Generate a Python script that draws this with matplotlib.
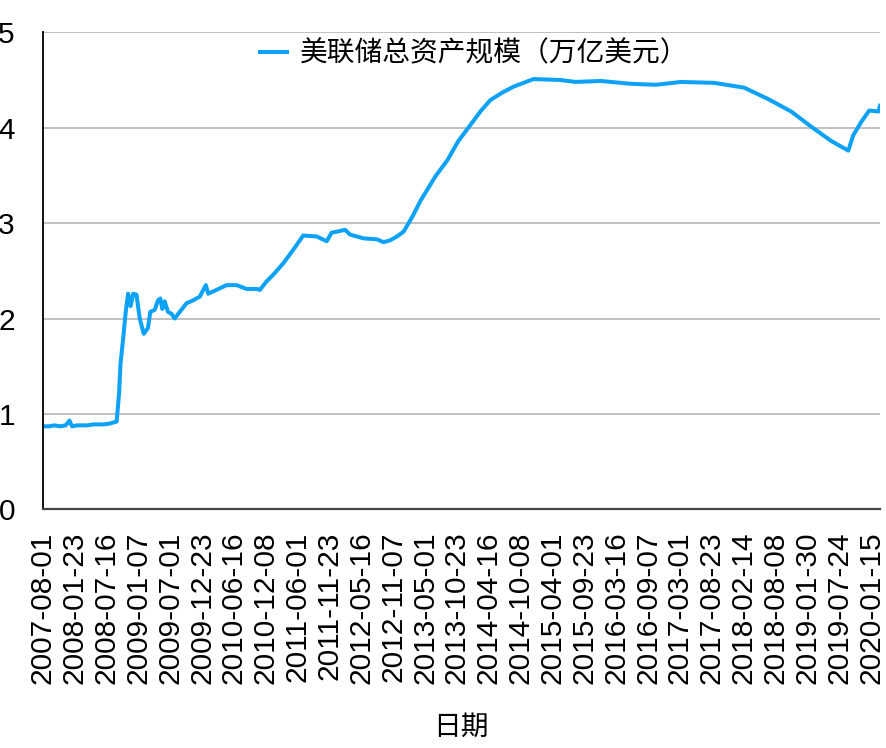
import matplotlib
matplotlib.use("Agg")
import matplotlib.pyplot as plt
import pandas as pd

plt.rcParams['font.family'] = ['Liberation Sans', 'Noto Sans CJK SC', 'DejaVu Sans']

# weekly readings of the Fed balance sheet (trillion USD)
dates = [
    "2007-08-01", "2007-09-05", "2007-10-03", "2007-11-07", "2007-12-05", "2007-12-26",
    "2008-01-09", "2008-02-06", "2008-03-05", "2008-04-02", "2008-05-07", "2008-06-04",
    "2008-07-02", "2008-08-06", "2008-09-10", "2008-09-17", "2008-09-24", "2008-10-01",
    "2008-10-16", "2008-10-30", "2008-11-12", "2008-11-26", "2008-12-10", "2008-12-28",
    "2009-01-15", "2009-02-06", "2009-03-01", "2009-03-14", "2009-04-07", "2009-04-25",
    "2009-05-08", "2009-05-19", "2009-06-01", "2009-06-19", "2009-07-08", "2009-07-26",
    "2009-08-23", "2009-09-29", "2009-11-04", "2009-12-11", "2010-01-13", "2010-01-26",
    "2010-03-13", "2010-05-07", "2010-07-01", "2010-08-25", "2010-10-19", "2010-11-06",
    "2010-12-13", "2011-01-19", "2011-03-15", "2011-05-08", "2011-07-02", "2011-09-14",
    "2011-11-08", "2011-12-05", "2012-01-02", "2012-02-17", "2012-03-15", "2012-05-28",
    "2012-08-10", "2012-09-15", "2012-10-22", "2012-11-28", "2013-01-03", "2013-01-31",
    "2013-02-27", "2013-04-05", "2013-04-24", "2013-06-27", "2013-09-01", "2013-10-31",
    "2013-12-25", "2014-03-01", "2014-04-25", "2014-07-01", "2014-08-30", "2014-10-24",
    "2014-12-18", "2015-05-15", "2015-08-06", "2015-12-22", "2016-06-05", "2016-10-20",
    "2017-03-07", "2017-09-05", "2018-02-17", "2018-06-29", "2018-11-02", "2019-02-21",
    "2019-06-11", "2019-09-12", "2019-10-09", "2019-11-22", "2020-01-05", "2020-02-24",
    "2020-03-04",
]
total_assets = [
    0.87, 0.87, 0.88, 0.87, 0.88, 0.93,
    0.87, 0.88, 0.88, 0.88, 0.89, 0.89,
    0.89, 0.90, 0.92, 1.07, 1.23, 1.52,
    1.79, 2.07, 2.26, 2.13, 2.26, 2.25,
    2.00, 1.84, 1.90, 2.07, 2.09, 2.19,
    2.21, 2.10, 2.18, 2.07, 2.05, 2.00,
    2.07, 2.16, 2.19, 2.23, 2.35, 2.26,
    2.30, 2.35, 2.35, 2.31, 2.31, 2.30,
    2.39, 2.46, 2.58, 2.72, 2.87, 2.86,
    2.81, 2.90, 2.91, 2.93, 2.88, 2.84,
    2.83, 2.80, 2.82, 2.86, 2.91, 3.00,
    3.09, 3.23, 3.29, 3.49, 3.66, 3.86,
    4.00, 4.17, 4.29, 4.37, 4.43, 4.47,
    4.51, 4.50, 4.48, 4.49, 4.46, 4.45,
    4.48, 4.47, 4.42, 4.30, 4.17, 4.01,
    3.86, 3.76, 3.92, 4.06, 4.18, 4.17,
    4.23,
]
tick_labels = [
    "2007-08-01", "2008-01-23", "2008-07-16", "2009-01-07", "2009-07-01", "2009-12-23",
    "2010-06-16", "2010-12-08", "2011-06-01", "2011-11-23", "2012-05-16", "2012-11-07",
    "2013-05-01", "2013-10-23", "2014-04-16", "2014-10-08", "2015-04-01", "2015-09-23",
    "2016-03-16", "2016-09-07", "2017-03-01", "2017-08-23", "2018-02-14", "2018-08-08",
    "2019-01-30", "2019-07-24", "2020-01-15",
]
series_name = "美联储总资产规模（万亿美元）"

x = pd.to_datetime(dates)

fig = plt.figure(figsize=(8.86, 7.48), dpi=100)
ax = fig.add_axes([0.0482, 0.3191, 0.9450, 0.6377])

ax.plot(x, total_assets, color="#0ea2f6", linewidth=2.9, label=series_name)

ax.set_ylim(0, 5)
ax.set_yticks([0, 1, 2, 3, 4, 5])
ax.set_xlim(x[0], x[-1])
ax.set_xticks(pd.to_datetime(tick_labels))
ax.set_xticklabels(tick_labels, rotation=90)

ax.grid(axis="y", color="#c0c0c0", linewidth=1.4)
ax.set_axisbelow(True)
for side in ["top", "right"]:
    ax.spines[side].set_visible(False)
ax.spines["left"].set_color("#111111")
ax.spines["left"].set_linewidth(1.4)
ax.spines["bottom"].set_color("#444444")
ax.spines["bottom"].set_linewidth(1.6)

ax.tick_params(axis="y", length=0, pad=20, labelsize=21.5)
ax.tick_params(axis="x", length=0, pad=16, labelsize=21.5)

ax.set_xlabel("日期", fontsize=20, labelpad=22)

ax.legend(loc="center left", bbox_to_anchor=(0.259, 0.9545), frameon=False,
          fontsize=20, borderpad=0, borderaxespad=0, handlelength=1.0,
          handletextpad=0.45)

fig.savefig("out.png", dpi=100)
